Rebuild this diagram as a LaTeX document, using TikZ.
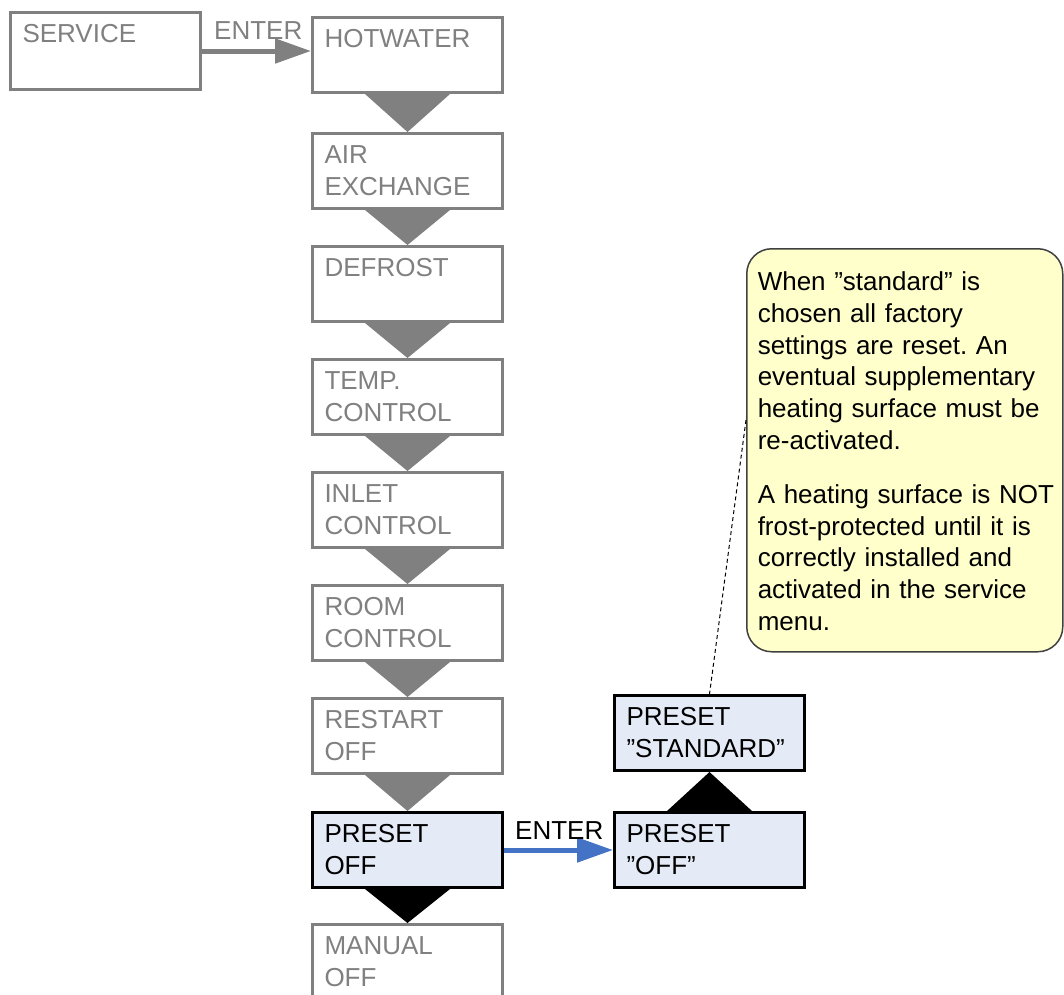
\documentclass[tikz,border=0pt]{standalone}
\usepackage{fontspec}
\setmainfont{Liberation Sans}
\usetikzlibrary{arrows.meta}
\definecolor{stepgray}{RGB}{128,128,128}
\definecolor{activefill}{RGB}{228,234,246}
\definecolor{notefill}{RGB}{255,255,204}
\definecolor{notedraw}{RGB}{64,64,64}
\definecolor{enterblue}{RGB}{68,114,196}
\newcommand{\noteline}[1]{\mbox{#1}}
\begin{document}
\frenchspacing
\begin{tikzpicture}[x=1pt,y=-1pt,
  font=\fontsize{26}{31.7}\selectfont,
  menubox/.style={draw, line width=3pt, anchor=north west, minimum width=190pt,
    inner xsep=12pt, inner ysep=0pt, text width=166pt, align=left,
    text height=30pt, text depth=45pt},
  idle/.style={menubox, draw=stepgray, text=stepgray, fill=white},
  active/.style={menubox, draw=black, text=black, fill=activefill},
  enterlabel/.style={anchor=base west, inner sep=0pt},
  enterarrow/.style={line width=5pt, -{Triangle[length=36pt,width=24pt]}},
  notebox/.style={draw=notedraw, fill=notefill, line width=1.5pt,
    rounded corners=25pt, anchor=north west, inner xsep=11pt, inner ysep=0pt,
    text width=294pt, minimum width=316pt, align=left,
    text height=42pt, text depth=361pt},
  leader/.style={black, line width=1pt, dash pattern=on 4pt off 3pt}
]
\clip (0,0) rectangle (1064,994);
\fill[white] (0,0) rectangle (1064,994);

% service menu column
\node[idle, text depth=47pt] (svc) at (9,11) {SERVICE};
\node[idle] (hw)    at (311,16)  {HOTWATER};
\node[idle] (air)   at (311,132) {AIR\\EXCHANGE};
\node[idle] (def)   at (311,245) {DEFROST};
\node[idle] (temp)  at (311,358) {TEMP.\\CONTROL};
\node[idle] (inlet) at (311,471) {INLET\\CONTROL};
\node[idle] (room)  at (311,584) {ROOM\\CONTROL};
\node[idle] (rst)   at (311,697) {RESTART\\OFF};
\node[active] (pre) at (311,811) {PRESET\\OFF};
\node[idle] (man)   at (311,923) {MANUAL\\OFF};

% preset sub-menu
\node[active] (std) at (613,694) {PRESET\\”STANDARD”};
\node[active] (pon) at (613,811) {PRESET\\”OFF”};

% step triangles between menu entries
\foreach \a/\b in {hw/air, air/def, def/temp, temp/inlet, inlet/room, room/rst, rst/pre}
  \fill[stepgray] ([xshift=-42.5pt]\a.south) -- (\b.north) -- ([xshift=42.5pt]\a.south) -- cycle;
\fill[black] ([xshift=-42.5pt]pre.south) -- (man.north) -- ([xshift=42.5pt]pre.south) -- cycle;
\fill[black] ([xshift=-42.5pt]pon.north) -- (std.south) -- ([xshift=42.5pt]pon.north) -- cycle;

% ENTER transitions
\draw[enterarrow, stepgray] (svc.east) -- (svc.east -| hw.west);
\node[enterlabel, text=stepgray] (e1) at ([xshift=12pt,yshift=12pt]svc.east) {ENTER};
\draw[enterarrow, enterblue] (pre.east) -- (pon.west);
\node[enterlabel, text=black] (e2) at ([xshift=11pt,yshift=11pt]pre.east) {ENTER};

% note with leader line
\node[notebox] (note) at (746,248) {\noteline{When ”standard” is}\\
\noteline{chosen all factory}\\
\noteline{settings are reset. An}\\
\noteline{eventual supplementary}\\
\noteline{heating surface must be}\\
\noteline{re-activated.}\\[22.6pt]
\noteline{A heating surface is NOT}\\
\noteline{frost-protected until it is}\\
\noteline{correctly installed and}\\
\noteline{activated in the service}\\
\noteline{menu.}};
\coordinate (tap) at ([yshift=-172pt]note.north west);
\draw[leader] (tap) -- (std.north);
\end{tikzpicture}
\end{document}
